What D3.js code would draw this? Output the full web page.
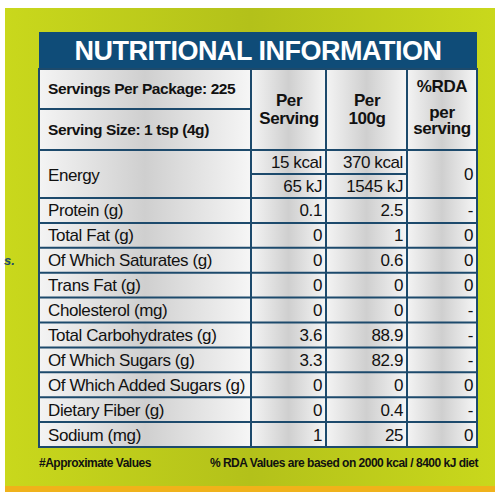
<!DOCTYPE html>
<html lang="en">
<head>
<meta charset="UTF-8">
<title>Nutritional Information</title>
<script src="https://d3js.org/d3.v7.min.js"></script>
<style>
  body { margin: 0; background: #fff; }
  svg { font-family: "Liberation Sans", Arial, sans-serif; }
</style>
</head>
<body>
<svg id="chart" width="500" height="500"></svg>
<script>
// table data
const nutrients = ["Protein (g)", "Total Fat (g)", "Of Which Saturates (g)", "Trans Fat (g)",
  "Cholesterol (mg)", "Total Carbohydrates (g)", "Of Which Sugars (g)",
  "Of Which Added Sugars (g)", "Dietary Fiber (g)", "Sodium (mg)"];
const perServing = ["0.1", "0", "0", "0", "0", "3.6", "3.3", "0", "0", "1"];
const per100g = ["2.5", "1", "0.6", "0", "0", "88.9", "82.9", "0", "0.4", "25"];
const rda = ["-", "0", "0", "0", "-", "-", "-", "0", "-", "0"];
const energyServing = ["15 kcal", "65 kJ"];
const energy100g = ["370 kcal", "1545 kJ"];
const energyRda = "0";

const svg = d3.select("#chart");
const defs = svg.append("defs");

const bg = defs.append("linearGradient").attr("id", "bg").attr("x1", 0).attr("x2", 1);
bg.append("stop").attr("offset", 0).attr("stop-color", "#c9d81c");
bg.append("stop").attr("offset", 0.5).attr("stop-color", "#b3c11a");
bg.append("stop").attr("offset", 1).attr("stop-color", "#c9d81c");

const cell = defs.append("linearGradient").attr("id", "cell").attr("x1", 0).attr("x2", 1);
cell.append("stop").attr("offset", 0).attr("stop-color", "#f4f4f4");
cell.append("stop").attr("offset", 0.5).attr("stop-color", "#cfcfcf");
cell.append("stop").attr("offset", 1).attr("stop-color", "#f6f6f6");

// background panel
svg.append("rect").attr("x", 5).attr("y", 8).attr("width", 490).attr("height", 484).attr("fill", "url(#bg)");
svg.append("rect").attr("x", 5).attr("y", 486).attr("width", 490).attr("height", 6).attr("fill", "#f0b21a");

const colX = [39, 251, 326, 407, 477];
const border = "#1d4a6c";

// title
svg.append("rect").attr("x", 39).attr("y", 32).attr("width", 438).attr("height", 37).attr("fill", "#0f4c78");
svg.append("text").attr("x", 258).attr("y", 60).attr("text-anchor", "middle")
  .attr("fill", "#fff").attr("font-size", 27).attr("font-weight", "bold").attr("letter-spacing", -0.5)
  .text("NUTRITIONAL INFORMATION");

// row positions
const headTop = 69, headMid = 109, headBot = 150, energyMid = 174, energyBot = 198, tableBot = 447;
const y = d3.scaleBand().domain(nutrients).range([energyBot, tableBot]);

// cell backgrounds
for (let c = 0; c < 4; c++) {
  svg.append("rect").attr("x", colX[c]).attr("y", headTop).attr("width", colX[c + 1] - colX[c])
    .attr("height", tableBot - headTop).attr("fill", "url(#cell)");
}

// grid lines
const g = svg.append("g").attr("stroke", border).attr("stroke-width", 2).attr("fill", "none");
g.append("rect").attr("x", 39).attr("y", headTop).attr("width", 438).attr("height", tableBot - headTop);
colX.slice(1, 4).forEach(x => g.append("line").attr("x1", x).attr("x2", x).attr("y1", headTop).attr("y2", tableBot));
g.append("line").attr("x1", 39).attr("x2", 251).attr("y1", headMid).attr("y2", headMid);
g.append("line").attr("x1", 39).attr("x2", 477).attr("y1", headBot).attr("y2", headBot);
g.append("line").attr("x1", 251).attr("x2", 407).attr("y1", energyMid).attr("y2", energyMid);
nutrients.forEach(n => g.append("line").attr("x1", 39).attr("x2", 477).attr("y1", y(n)).attr("y2", y(n)));

function txt(x, yy, s, opts = {}) {
  svg.append("text").attr("x", x).attr("y", yy).attr("text-anchor", opts.anchor || "start")
    .attr("font-size", opts.size || 17).attr("font-weight", opts.bold ? "bold" : "normal")
    .attr("fill", "#111").attr("letter-spacing", opts.ls || -0.4).text(s);
}

// header
txt(48, 94, "Servings Per Package: 225", { bold: true, size: 15.5 });
txt(48, 135, "Serving Size: 1 tsp (4g)", { bold: true, size: 15.5 });
txt(289, 106, "Per", { bold: true, anchor: "middle" });
txt(289, 124, "Serving", { bold: true, anchor: "middle" });
txt(367, 106, "Per", { bold: true, anchor: "middle" });
txt(367, 124, "100g", { bold: true, anchor: "middle" });
txt(442, 92, "%RDA", { bold: true, anchor: "middle" });
txt(442, 118, "per", { bold: true, anchor: "middle" });
txt(442, 134, "serving", { bold: true, anchor: "middle" });

// energy
txt(48, 181, "Energy");
energyServing.forEach((s, i) => txt(322, 168 + i * 24, s, { anchor: "end" }));
energy100g.forEach((s, i) => txt(403, 168 + i * 24, s, { anchor: "end" }));
txt(473, 180, energyRda, { anchor: "end" });

// nutrient rows
nutrients.forEach((n, i) => {
  const yy = y(n) + y.bandwidth() / 2 + 6;
  txt(48, yy, n);
  txt(322, yy, perServing[i], { anchor: "end" });
  txt(403, yy, per100g[i], { anchor: "end" });
  txt(473, yy, rda[i], { anchor: "end" });
});

// footer
txt(39, 467, "#Approximate Values", { bold: true, size: 12, ls: -0.5 });
txt(478, 467, "% RDA Values are based on 2000 kcal / 8400 kJ diet", { bold: true, size: 12, ls: -0.5, anchor: "end" });
svg.append("text").attr("x", 4).attr("y", 265).attr("font-size", 13).attr("font-weight", "bold")
  .attr("font-style", "italic").attr("fill", "#1d4a6c").text("s.");
</script>
</body>
</html>
